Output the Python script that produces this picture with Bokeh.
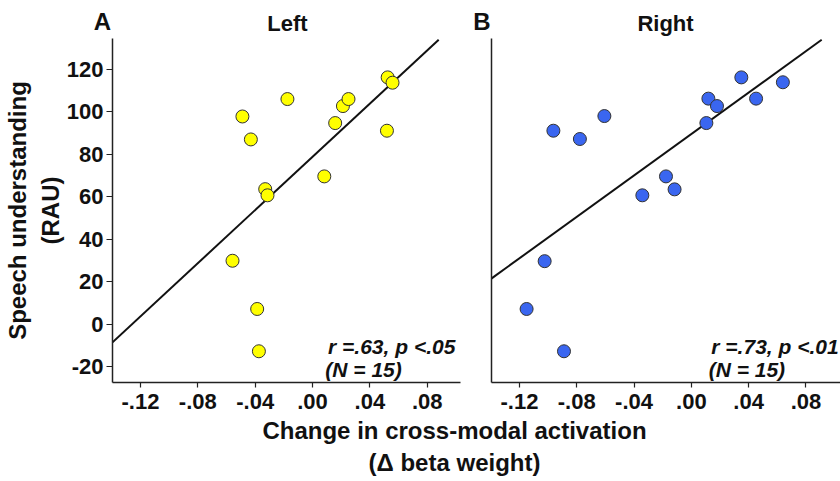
from bokeh.plotting import figure
from bokeh.models import Range1d, FixedTicker, Label
from bokeh.layouts import column, row
from bokeh.embed import file_html
from bokeh.resources import INLINE

# ---------------- data ----------------
left_x = [-0.0489, -0.0430, -0.0175, -0.0330, -0.0314, -0.0558, -0.0386, -0.0374,
          0.0082, 0.0158, 0.0212, 0.0251, 0.0524, 0.0558, 0.0519]
left_y = [97.7, 86.9, 105.9, 63.5, 60.6, 29.8, 7.1, -12.8,
          69.5, 94.6, 102.6, 105.9, 116.1, 113.6, 91.0]
right_x = [-0.0963, -0.0778, -0.0607, -0.1024, -0.1150, -0.0889, -0.0342, -0.0177,
           -0.0117, 0.0105, 0.0119, 0.0179, 0.0349, 0.0452, 0.0639]
right_y = [91.0, 87.1, 97.9, 29.6, 7.1, -12.8, 60.6, 69.5,
           63.4, 94.6, 106.1, 102.6, 116.1, 106.1, 113.8]
left_fit_x = [-0.1395, 0.0880]
left_fit_y = [-8.6, 133.8]
right_fit_x = [-0.1396, 0.0910]
right_fit_y = [21.4, 133.8]

x_tick_values = [-0.12, -0.08, -0.04, 0.0, 0.04, 0.08]
x_tick_labels = ["-.12", "-.08", "-.04", ".00", ".04", ".08"]
y_tick_values = [-20, 0, 20, 40, 60, 80, 100, 120]
y_tick_labels = ["-20", "0", "20", "40", "60", "80", "100", "120"]

FONT = "Liberation Sans"
AX = "#222222"
TXT = "#111111"


def make_panel(width, border_left, border_right, x_end, show_y):
    p = figure(width=width, height=380, output_backend="svg", toolbar_location=None,
               x_range=Range1d(-0.1395, x_end), y_range=Range1d(-27.5, 134.4),
               min_border_left=border_left, min_border_right=border_right,
               min_border_top=0, min_border_bottom=36)
    p.grid.visible = False
    p.outline_line_color = None
    p.background_fill_color = "white"
    p.border_fill_color = "white"
    xa = p.xaxis[0]
    xa.ticker = FixedTicker(ticks=x_tick_values)
    xa.major_label_overrides = dict(zip(x_tick_values, x_tick_labels))
    xa.minor_tick_line_color = None
    xa.major_tick_in = 0
    xa.major_tick_out = 5
    xa.major_label_standoff = 6
    xa.axis_line_color = AX
    xa.axis_line_width = 1.5
    xa.major_tick_line_color = AX
    xa.major_tick_line_width = 1.2
    xa.major_label_text_font = FONT
    xa.major_label_text_font_style = "bold"
    xa.major_label_text_font_size = "22px"
    xa.major_label_text_color = TXT
    ya = p.yaxis[0]
    ya.axis_line_color = AX
    ya.axis_line_width = 1.5
    ya.minor_tick_line_color = None
    if show_y:
        ya.ticker = FixedTicker(ticks=y_tick_values)
        ya.major_label_overrides = dict(zip(y_tick_values, y_tick_labels))
        ya.major_tick_in = 0
        ya.major_tick_out = 6
        ya.major_tick_line_color = AX
        ya.major_tick_line_width = 1.2
        ya.major_label_standoff = 3
        ya.major_label_text_font = FONT
        ya.major_label_text_font_style = "bold"
        ya.major_label_text_font_size = "22px"
        ya.major_label_text_color = TXT
        ya.axis_label = "Speech understanding\n(RAU)"
        ya.axis_label_text_font = FONT
        ya.axis_label_text_font_style = "bold"
        ya.axis_label_text_font_size = "24px"
        ya.axis_label_text_color = TXT
        ya.axis_label_standoff = 0
    else:
        ya.ticker = FixedTicker(ticks=[])
        ya.major_tick_line_color = None
        ya.major_label_text_font_size = "0px"
    return p


def strip(height):
    s = figure(width=840, height=height, output_backend="svg", toolbar_location=None,
               x_range=Range1d(0, 840), y_range=Range1d(0, height),
               min_border=0, min_border_left=0, min_border_right=0,
               min_border_top=0, min_border_bottom=0)
    s.axis.visible = False
    s.grid.visible = False
    s.outline_line_color = None
    return s


def add_text(p, text, x, y, size, style="bold", align="left", baseline="middle"):
    p.add_layout(Label(x=x, y=y, text=text, text_font=FONT, text_font_style=style,
                       text_font_size=size, text_align=align, text_baseline=baseline,
                       text_color=TXT))


# ---------------- panel titles ----------------
p0 = strip(38)
add_text(p0, "A", 102, 17.5, "24px", align="center")
add_text(p0, "Left", 287, 15.5, "22px", align="center")
add_text(p0, "B", 481.5, 17.5, "24px", align="center")
add_text(p0, "Right", 665, 15.5, "22px", align="center")

# ---------------- left panel ----------------
p1 = make_panel(470, 112, 10, 0.1032, True)
p1.line(left_fit_x, left_fit_y, line_color=TXT, line_width=2)
p1.scatter(left_x, left_y, size=13, fill_color="#FFFF00", line_color="#333333", line_width=1)
add_text(p1, "r =.63, p <.05", 0.0996, -10.5, "21px", style="bold italic", align="right")
add_text(p1, "(N = 15)", 0.0089, -21.3, "21px", style="bold italic", align="left")

# ---------------- right panel ----------------
p2 = make_panel(370, 21, 0, -0.1395 + 349 / 1432.5, False)
p2.line(right_fit_x, right_fit_y, line_color=TXT, line_width=2)
p2.scatter(right_x, right_y, size=13, fill_color="#3A66F0", line_color="#333333", line_width=1)
add_text(p2, "r =.73, p <.01", 0.1028, -10.5, "21px", style="bold italic", align="right")
add_text(p2, "(N = 15)", 0.0121, -21.3, "21px", style="bold italic", align="left")

# ---------------- shared x title ----------------
p3 = strip(63)
add_text(p3, "Change in cross-modal activation", 454, 51, "24px", align="center")
add_text(p3, "(\u0394 beta weight)", 454, 19, "24px", align="center")

layout = column(p0, row(p1, p2, spacing=0), p3, spacing=0)

open("out.html", "w").write(file_html(layout, INLINE))
